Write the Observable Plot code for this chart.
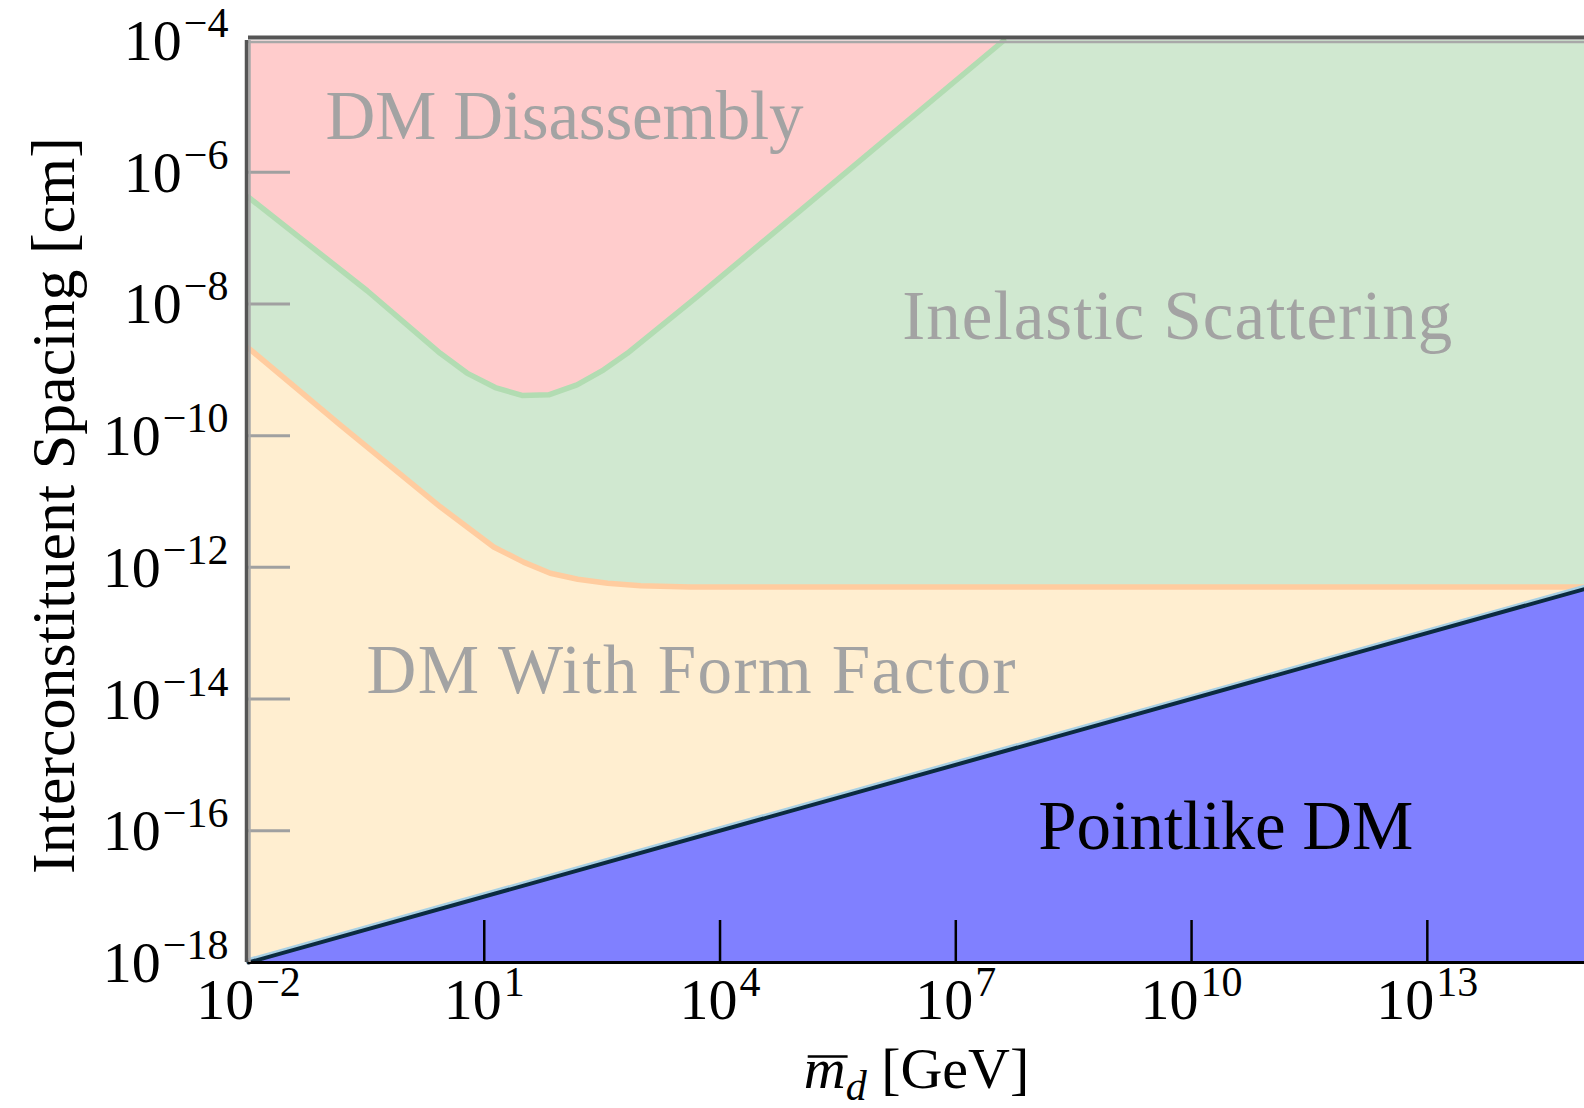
<!DOCTYPE html>
<html>
<head>
<meta charset="utf-8">
<script src="https://cdn.jsdelivr.net/npm/d3@7"></script>
<script src="https://cdn.jsdelivr.net/npm/@observablehq/plot@0.6"></script>
<style>
  html, body { margin: 0; padding: 0; background: #ffffff; }
  #chart { width: 1584px; height: 1108px; overflow: hidden; }
</style>
</head>
<body>
<div id="chart"></div>
<script>
// ---- Data (log10 of mass in GeV, log10 of spacing in cm) ----
const greenLogM  = [-2, -1.34, -0.49, 0.44, 0.78, 1.14, 1.48, 1.82, 2.18, 2.52, 2.82, 3.71, 7.61, 15];
const greenLogS  = [-6.38, -7.0, -7.8, -8.75, -9.05, -9.27, -9.39, -9.38, -9.23, -9.00, -8.75, -7.89, -4, -4];
const orangeLogM = [-2, -0.83, 0.44, 1.12, 1.50, 1.84, 2.19, 2.57, 2.99, 3.62, 15];
const orangeLogS = [-8.67, -9.84, -11.08, -11.69, -11.92, -12.09, -12.18, -12.24, -12.28, -12.30, -12.30];
const pointLogM  = [-2, 15];
const pointLogS  = [-18, -12.33];

const regionText  = ["DM Disassembly", "Inelastic Scattering", "DM With Form Factor", "Pointlike DM"];
const regionLogM  = [-1.02, 6.32, -0.50, 8.05];
const regionLogS  = [-5.50, -8.53, -13.91, -16.27];
const regionColor = ["#a3a3a3", "#a3a3a3", "#a3a3a3", "#000000"];
// rendered width of each region label (style)
const regionWidth = [478, 550, 649, 375];

const xTickExp      = [-2, 1, 4, 7, 10, 13];
const xTickMarkExp  = [1, 4, 7, 10, 13];
const yTickExp      = [-4, -6, -8, -10, -12, -14, -16, -18];
const yTickMarkExp  = [-6, -8, -10, -12, -14, -16];

const xDomainExp = [-2, 15];
const yDomainExp = [-18, -4];

const xTitle = "m_d [GeV]";
const yTitle = "Interconstituent Spacing [cm]";

// ---- Build tables ----
const p10 = e => Math.pow(10, e);
const toPts = (ms, ss) => ms.map((m, i) => ({m: p10(m), s: p10(ss[i]), lm: m, ls: ss[i]}));
const green  = toPts(greenLogM, greenLogS);
const greenLine = green.filter((d, i) => i === 0 || green[i - 1].ls < -4);
const orange = toPts(orangeLogM, orangeLogS);
const point  = toPts(pointLogM, pointLogS);
const regions = regionText.map((t, i) => ({text: t, m: p10(regionLogM[i]), s: p10(regionLogS[i]), color: regionColor[i]}));

const xMin = p10(xDomainExp[0]), xMax = p10(xDomainExp[1]);
const yMin = p10(yDomainExp[0]), yMax = p10(yDomainExp[1]);
const fmt = d => "10^" + Math.round(Math.log10(d));

const FONT = "'Liberation Serif', 'Times New Roman', serif";

const chart = Plot.plot({
  width: 1584,
  height: 1108,
  marginLeft: 248,
  marginRight: 0,
  marginTop: 40,
  marginBottom: 146,
  style: {fontFamily: FONT, background: "transparent", overflow: "visible"},
  x: {type: "log", domain: [xMin, xMax], label: null},
  y: {type: "log", domain: [yMin, yMax], label: null},
  marks: [
    Plot.frame({fill: "#ffcccc", stroke: null}),
    Plot.areaY(green,  {x: "m", y1: yMin, y2: "s", fill: "#d0e8d0"}),
    Plot.areaY(orange, {x: "m", y1: yMin, y2: "s", fill: "#ffeed0"}),
    Plot.areaY(point,  {x: "m", y1: yMin, y2: "s", fill: "#8080ff"}),
    Plot.line(greenLine, {x: "m", y: "s", stroke: "#b2dcb2", strokeWidth: 5.5}),
    Plot.line(orange, {x: "m", y: "s", stroke: "#ffcc9f", strokeWidth: 5.5}),
    Plot.line(point, {x: "m", y: "s", stroke: "#a8d0e4", strokeWidth: 3, dy: -3}),
    Plot.line(point, {x: "m", y: "s", stroke: "#0b2b40", strokeWidth: 4}),

    // inward ticks
    Plot.axisY(yTickMarkExp.map(p10), {tickSize: -42, tickFormat: () => "", stroke: "#a0a0a0", strokeWidth: 3, label: null}),
    Plot.axisX(xTickMarkExp.map(p10), {anchor: "bottom", tickSize: -42, tickFormat: () => "", stroke: "#000", strokeWidth: 2.5, label: null}),

    // frame / axis lines
    Plot.ruleY([yMin], {stroke: "#000", strokeWidth: 3}),
    Plot.ruleX([xMin], {stroke: "#a8a8a8", strokeWidth: 2.5, dx: 1}),
    Plot.ruleY([yMax], {stroke: "#a8a8a8", strokeWidth: 2.5, dy: 1.5}),
    Plot.ruleX([xMin], {stroke: "#555", strokeWidth: 3.5, dx: -2, y1: yMin, y2: yMax}),
    Plot.ruleY([yMax], {stroke: "#555", strokeWidth: 4, dy: -3}),

    // tick labels
    Plot.axisY(yTickExp.map(p10), {tickSize: 0, tickPadding: 20, tickFormat: fmt, fontSize: 58, dy: 1, label: null}),
    Plot.axisX(xTickExp.map(p10), {anchor: "bottom", tickSize: 0, tickPadding: 15, tickFormat: fmt, fontSize: 58, label: null}),

    // region labels
    Plot.text(regions, {x: "m", y: "s", text: "text", fill: "color", fontSize: 69, textAnchor: "start", lineAnchor: "bottom"}),

    // axis titles
    Plot.text([xTitle], {frameAnchor: "bottom", text: d => d, fontSize: 58, textAnchor: "middle", lineAnchor: "bottom", dy: 125}),
    Plot.text([yTitle], {frameAnchor: "left", text: d => d, fontSize: 62, textAnchor: "middle", lineAnchor: "middle", rotate: -90, dx: -194, dy: 4})
  ]
});

document.getElementById("chart").appendChild(chart);

// superscripts for tick labels, x title decoration, label widths
d3.select(chart).selectAll("text").each(function() {
  const t = this.textContent;
  const sel = d3.select(this);
  const m = /^10\^(-?\d+)$/.exec(t);
  const ri = regionText.indexOf(t);
  if (m) {
    const e = +m[1];
    sel.text("10");
    sel.append("tspan").attr("dy", -23).attr("font-size", 42).attr("dx", 2)
      .text((e < 0 ? "\u2212" : "") + Math.abs(e));
  } else if (ri >= 0) {
    sel.attr("textLength", regionWidth[ri]).attr("lengthAdjust", "spacing");
  } else if (t === xTitle) {
    sel.text("");
    sel.append("tspan").attr("font-style", "italic").text("m");
    sel.append("tspan").attr("font-style", "italic").attr("font-size", 42).attr("dy", 12).text("d");
    sel.append("tspan").attr("dy", -12).text(" [GeV]");
    const a = this.getStartPositionOfChar(0), b = this.getEndPositionOfChar(0);
    d3.select(this.parentNode).append("line")
      .attr("transform", this.getAttribute("transform"))
      .attr("x1", a.x + 4).attr("x2", b.x + 2)
      .attr("y1", a.y - 31).attr("y2", a.y - 31)
      .attr("stroke", "#000").attr("stroke-width", 2.5);
  }
});
</script>
</body>
</html>
